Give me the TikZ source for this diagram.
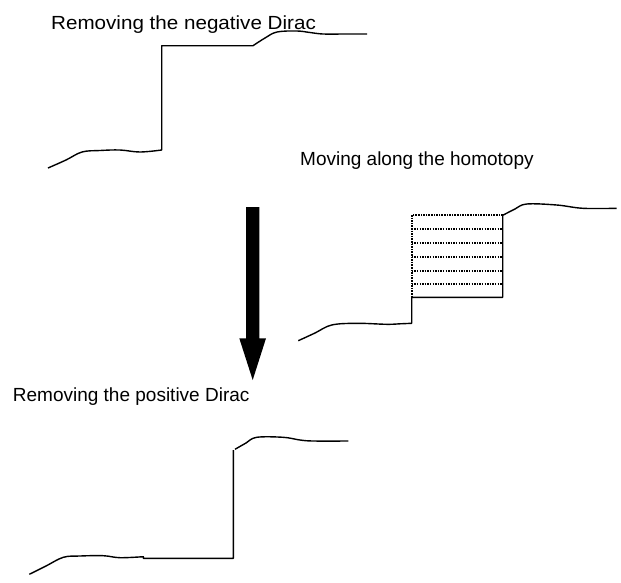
\documentclass[tikz,border=0pt]{standalone}
\usepackage{fontspec}
\setmainfont{Liberation Sans}
\begin{document}
\begin{tikzpicture}[x=1pt,y=-1pt,
  lbl/.style={anchor=base west,inner sep=0pt,font=\fontsize{19}{21}\selectfont},
  curve/.style={line width=1.4pt,line join=round},
  dotline/.style={line width=1.9pt,dash pattern=on 1.5pt off 1.1pt}]
\useasboundingbox (0,0) rectangle (621,582);
% labels
\node[lbl] (t1) at (51,29.3) {\scalebox{1.085}[1]{Removing the negative Dirac}};
\node[lbl] (t2) at (300,165) {Moving along the homotopy};
\node[lbl] (t3) at (12.7,401) {Removing the positive Dirac};
% top diagram
\coordinate (a0) at (161.7,150);
\coordinate (a1) at (161.7,45.7);
\coordinate (a2) at (253,45.7);
\draw[curve] plot[smooth,tension=0.6] coordinates {(48,168) (66,160) (82,152) (100,150.5) (120,150) (140,152) (161.7,150)}
  -- (a1) -- (a2)
  plot[smooth,tension=0.6] coordinates {(253,45.7) (265,38) (277,32) (297,31) (310,32.5) (323,34) (345,34) (367,34)};
% middle diagram
\coordinate (b0) at (411.7,323.3);
\coordinate (b1) at (411.7,297.3);
\coordinate (b2) at (502.7,297.3);
\coordinate (b3) at (502.7,215);
\coordinate (b4) at (411.7,215);
\draw[curve] plot[smooth,tension=0.6] coordinates {(298.3,340.7) (315,333) (331.7,325) (356.7,323.3) (386.7,324.3) (400,323.8) (411.7,323.3)}
  -- (b1) -- (b2) -- (b3)
  plot[smooth,tension=0.6] coordinates {(503.3,215) (515,209) (526.7,204) (556.7,205) (583,208.3) (616.7,208.3)};
\draw[dotline] (b3) -- (b4) -- (b1);
\foreach \yy in {229,243,256.7,270.7,284}
  \draw[dotline] (411.7,\yy) -- (502.7,\yy);
% arrow
\fill (246,207) -- (259.3,207) -- (259.3,338.3) -- (266,338.3) -- (252.7,380) -- (239.3,338.3) -- (246,338.3) -- cycle;
% bottom diagram
\coordinate (c0) at (143.3,558.3);
\coordinate (c1) at (233.3,558.3);
\coordinate (c2) at (233.3,450);
\draw[curve] plot[smooth,tension=0.6] coordinates {(29.3,574.3) (46,566) (63.3,557.3) (80,556) (103.3,555.7) (120,557.7) (143.3,556.7)}
  -- (c0) -- (c1) -- (c2)
  plot[smooth,tension=0.6] coordinates {(235,449.3) (246,443) (256.7,437.3) (283.3,437.3) (300,440) (313.3,441) (348.3,441)};
\end{tikzpicture}
\end{document}
